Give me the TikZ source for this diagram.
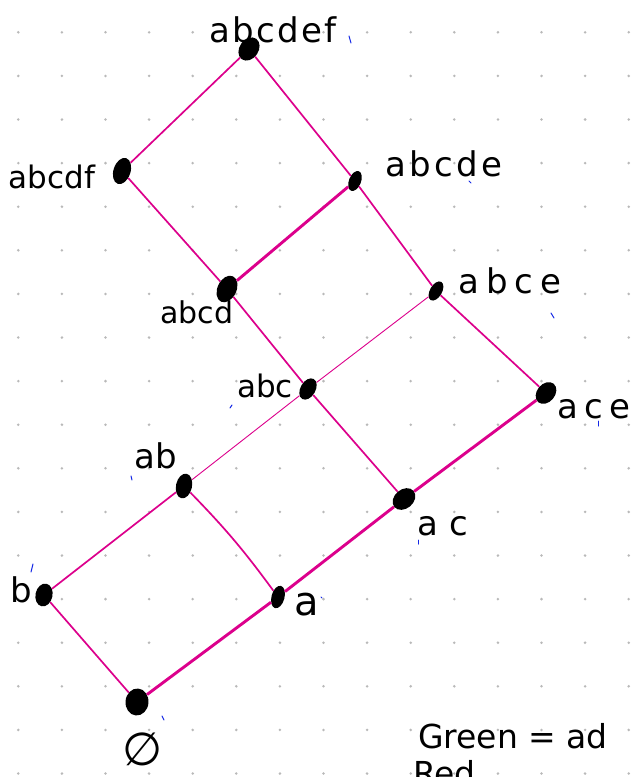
\documentclass[tikz,border=0pt]{standalone}
\usepackage{fontspec}
\setmainfont{DejaVu Sans}
\newfontfamily\handA{DejaVu Sans}
\usetikzlibrary{shapes.geometric}
\definecolor{edgemag}{RGB}{220,0,140}
\definecolor{griddot}{RGB}{185,185,185}
\definecolor{speck}{RGB}{20,40,230}
\begin{document}
\begin{tikzpicture}[x=1pt,y=-1pt,
  blob/.style={ellipse, fill=black, inner sep=0pt},
  edge/.style={draw=edgemag, line width=1.7pt},
  thickedge/.style={edge, line width=2.9pt},
  thinedge/.style={edge, line width=0.9pt},
  lab/.style={inner sep=0pt, anchor=center, text=black, font=\fontsize{31}{33}\selectfont\handA},
  labS/.style={lab, font=\fontsize{34}{36}\selectfont\handA\addfontfeature{LetterSpace=#1}},
  speckle/.style={draw=speck, line width=1pt, line cap=round}]
\useasboundingbox (0,0) rectangle (633,777);
\clip (0,0) rectangle (633,777);
\fill[white] (0,0) rectangle (633,777);
% dotted grid
\foreach \i in {0,...,14}{\foreach \j in {0,...,17}{\fill[griddot] (18.3+43.6*\i, 32.3+43.6*\j) circle[radius=1.4];}}
% vertices
\node[blob, minimum width=19, minimum height=25, rotate=-35] (abcdef) at (249,49) {};
\node[blob, minimum width=17, minimum height=27, rotate=-18] (abcdf) at (122,171) {};
\node[blob, minimum width=12, minimum height=21, rotate=-22] (abcde) at (355,181) {};
\node[blob, minimum width=19, minimum height=28, rotate=-25] (abcd) at (227,289) {};
\node[blob, minimum width=12, minimum height=21, rotate=-30] (abce) at (436,291) {};
\node[blob, minimum width=15, minimum height=23, rotate=-30] (abc) at (308,389) {};
\node[blob, minimum width=18, minimum height=24, rotate=-40] (ace) at (546,393) {};
\node[blob, minimum width=16, minimum height=25, rotate=-12] (ab) at (184,486) {};
\node[blob, minimum width=19, minimum height=25, rotate=-50] (ac) at (404,499) {};
\node[blob, minimum width=17, minimum height=23, rotate=-12] (b) at (44,595) {};
\node[blob, minimum width=13, minimum height=23, rotate=-15] (a) at (278,597) {};
\node[blob, minimum width=23, minimum height=27, rotate=-5] (empty) at (137,702) {};
% connectors
\draw[edge] (abcdef) -- (abcdf);
\draw[edge] (abcdef) -- (abcde);
\draw[edge] (abcdf) -- (abcd);
\draw[thickedge] (abcde) -- (abcd);
\draw[edge] (abcde) -- (abce);
\draw[edge] (abcd) -- (abc);
\draw[thinedge] (abce) -- (abc);
\draw[edge] (abce) -- (ace);
\draw[thinedge] (abc) -- (ab);
\draw[edge] (abc) -- (ac);
\draw[thickedge] (ace) -- (ac);
\draw[edge] (ab) -- (b);
\draw[edge] (ab) to[bend left=4] (a);
\draw[thickedge] (ac) -- (a);
\draw[edge] (b) -- (empty);
\draw[thickedge] (a) -- (empty);
% labels
\node[labS=7] (t-abcdef) at (273,30) {abcdef};
\node[lab] (t-abcdf) at (52,177) {abcdf};
\node[labS=10] (t-abcde) at (444,164) {abcde};
\node[lab, font=\fontsize{30}{32}\selectfont\handA] (t-abcd) at (197,312) {abcd};
\node[labS=21] (t-abce) at (510,281) {abce};
\node[lab] (t-abc) at (265,386) {abc};
\node[labS=19] (t-ace) at (594,409) {ace};
\node[labS=0] (t-ab) at (156,456) {ab};
\node[labS=34] (t-ac) at (443,526) {ac};
\node[labS=0] (t-b) at (21,590) {b};
\node[lab, font=\fontsize{40}{42}\selectfont\handA] (t-a) at (307,605) {a};
\node[lab, font=\fontsize{46}{48}\selectfont\handA] (t-empty) at (143,749) {∅};
\node[lab, anchor=base west, font=\fontsize{33}{35}\selectfont\handA] (green) at (418,748) {Green = ad};
\node[lab, anchor=base west, font=\fontsize{33}{35}\selectfont\handA] (red) at (413,785) {Red};
% stray blue specks
\draw[speckle] (349,36) -- (351,43);
\draw[speckle] (469,181) -- (471,183);
\draw[speckle] (551,313) -- (554,318);
\draw[speckle] (230,408) -- (232,405);
\draw[speckle] (131,476) -- (132,480);
\draw[speckle] (598,421) -- (598,426);
\draw[speckle] (418,540) -- (418,544);
\draw[speckle] (33,564) -- (31,572);
\draw[speckle] (321,597) -- (322,598);
\draw[speckle] (162,716) -- (164,720);
\end{tikzpicture}
\end{document}
